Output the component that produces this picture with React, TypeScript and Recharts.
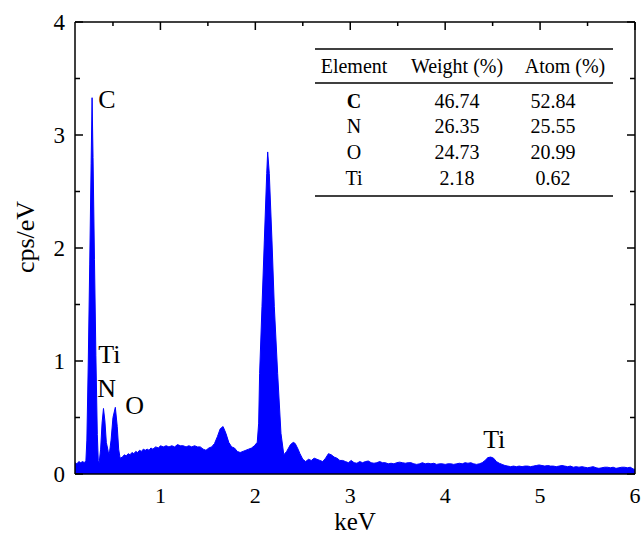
import { AreaChart, Area, XAxis, YAxis, ReferenceDot } from 'recharts'

const SERIF = '"Liberation Serif", "Times New Roman", serif'
const BLUE = '#0000ff'

// EDS spectrum
const keV = [
  0.10, 0.12, 0.14, 0.16, 0.18, 0.20, 0.215,
  0.225, 0.24, 0.255, 0.27, 0.28, 0.29, 0.305, 0.32, 0.335, 0.345, 0.355,
  0.37, 0.385, 0.40, 0.415, 0.43, 0.45, 0.462,
  0.48, 0.50, 0.525, 0.545, 0.56, 0.575,
  0.60, 0.62, 0.64, 0.66, 0.68, 0.70, 0.72, 0.74, 0.76, 0.78, 0.80, 0.82, 0.84, 0.86, 0.88, 0.90, 0.92, 0.95, 0.98,
  1.00, 1.03, 1.06, 1.09, 1.12, 1.15, 1.18, 1.21, 1.24, 1.27, 1.30, 1.33, 1.36, 1.39, 1.42, 1.45, 1.48,
  1.51, 1.54, 1.57, 1.60, 1.63, 1.66, 1.69, 1.72, 1.75, 1.78, 1.81, 1.84, 1.87, 1.90, 1.93, 1.96, 1.99, 2.02,
  2.035, 2.045, 2.07, 2.095, 2.12, 2.13, 2.147, 2.175, 2.20, 2.235, 2.27, 2.30,
  2.33, 2.37, 2.40, 2.42, 2.45, 2.47, 2.50, 2.53, 2.56, 2.59, 2.62, 2.65, 2.68, 2.71, 2.74, 2.77, 2.80,
  2.83, 2.86, 2.89, 2.92, 2.95, 2.98, 3.01, 3.04, 3.07, 3.10, 3.13, 3.16, 3.19, 3.22, 3.25, 3.28, 3.31,
  3.34, 3.37, 3.40, 3.43, 3.46, 3.49, 3.52, 3.55, 3.58, 3.61, 3.64, 3.67, 3.70, 3.73, 3.76, 3.79, 3.82,
  3.85, 3.88, 3.91, 3.94, 3.97, 4.00, 4.03, 4.06, 4.09, 4.12, 4.15, 4.18, 4.21, 4.24, 4.27, 4.30, 4.33,
  4.36, 4.39, 4.42, 4.45, 4.48, 4.51, 4.54, 4.57, 4.60, 4.63, 4.66, 4.69, 4.72, 4.75, 4.78, 4.81, 4.84,
  4.87, 4.90, 4.93, 4.96, 4.99, 5.02, 5.05, 5.08, 5.11, 5.14, 5.17, 5.20, 5.23, 5.26, 5.29, 5.32, 5.35,
  5.38, 5.41, 5.44, 5.47, 5.50, 5.53, 5.56, 5.59, 5.62, 5.65, 5.68, 5.71, 5.74, 5.77, 5.80, 5.83, 5.86,
  5.89, 5.92, 5.95, 5.98, 6.00,
]
const cps = [
  0.10, 0.09, 0.11, 0.10, 0.11, 0.10, 0.12,
  0.30, 1.00, 1.85, 2.75, 3.33, 2.80, 1.90, 1.05, 0.35, 0.12, 0.10,
  0.22, 0.45, 0.58, 0.47, 0.28, 0.20, 0.18,
  0.30, 0.50, 0.59, 0.42, 0.22, 0.14,
  0.15, 0.17, 0.16, 0.18, 0.17, 0.19, 0.18, 0.20, 0.19, 0.21, 0.20, 0.22, 0.21, 0.22, 0.21, 0.23, 0.22, 0.24, 0.23,
  0.25, 0.24, 0.25, 0.24, 0.25, 0.24, 0.26, 0.25, 0.25, 0.24, 0.25, 0.24, 0.25, 0.24, 0.24, 0.22, 0.21,
  0.23, 0.24, 0.27, 0.33, 0.40, 0.42, 0.36, 0.28, 0.24, 0.23, 0.20, 0.19, 0.20, 0.21, 0.22, 0.23, 0.25, 0.28,
  0.45, 0.89, 1.48, 2.07, 2.66, 2.85, 2.66, 2.07, 1.48, 0.89, 0.36, 0.17,
  0.20, 0.26, 0.28, 0.27, 0.22, 0.18, 0.13, 0.11, 0.13, 0.12, 0.14, 0.13, 0.12, 0.11, 0.14, 0.18, 0.17,
  0.15, 0.14, 0.12, 0.12, 0.11, 0.10, 0.12, 0.10, 0.095, 0.11, 0.10, 0.11, 0.115, 0.10, 0.095, 0.10, 0.11,
  0.10, 0.10, 0.09, 0.095, 0.09, 0.10, 0.105, 0.10, 0.095, 0.10, 0.10, 0.09, 0.085, 0.09, 0.10, 0.09, 0.095,
  0.09, 0.095, 0.085, 0.09, 0.09, 0.085, 0.09, 0.09, 0.085, 0.09, 0.095, 0.09, 0.10, 0.095, 0.10, 0.09, 0.085,
  0.09, 0.10, 0.12, 0.145, 0.15, 0.14, 0.11, 0.095, 0.085, 0.075, 0.07, 0.065, 0.07, 0.065, 0.07, 0.065, 0.07,
  0.07, 0.065, 0.07, 0.075, 0.08, 0.075, 0.07, 0.075, 0.07, 0.07, 0.065, 0.07, 0.075, 0.07, 0.065, 0.07, 0.06,
  0.065, 0.06, 0.065, 0.06, 0.055, 0.06, 0.065, 0.055, 0.05, 0.055, 0.06, 0.06, 0.055, 0.06, 0.05, 0.055, 0.06,
  0.06, 0.055, 0.06, 0.045, 0.04,
]
const spectrum = keV.map((e, i) => ({ keV: e, cps: cps[i] }))

const xTicks = [0.5, 1, 1.5, 2, 2.5, 3, 3.5, 4, 4.5, 5, 5.5, 6]
const yTicks = [0, 0.5, 1, 1.5, 2, 2.5, 3, 3.5, 4]

// peak labels, anchored (left / baseline) in data units
const peakNames = ['C', 'Ti', 'N', 'O', 'Ti']
const peakKeV = [0.345, 0.345, 0.335, 0.63, 4.4]
const peakCps = [3.24, 0.98, 0.68, 0.53, 0.23]

const tableHead = ['Element', 'Weight (%)', 'Atom (%)']
const elements = ['C', 'N', 'O', 'Ti']
const weightPct = ['46.74', '26.35', '24.73', '2.18']
const atomPct = ['52.84', '25.55', '20.99', '0.62']

const major = (v: number) => Number.isInteger(v)

function BottomTick({ x, y, payload }: any) {
  if (!major(payload.value)) return <g />
  return (
    <text x={x} y={y} dy="0.71em" textAnchor="middle" fontSize={22} fontFamily={SERIF} fill="#000">
      {payload.value}
    </text>
  )
}

function TopTick({ x, y, payload }: any) {
  const len = major(payload.value) ? 8 : 4
  return <line x1={x} y1={y} x2={x} y2={y + len} stroke="#000" strokeWidth={1.5} />
}

function LeftTick({ x, y, payload }: any) {
  const len = major(payload.value) ? 8 : 5
  return (
    <g>
      <line x1={x + 10} y1={y} x2={x + 10 + len} y2={y} stroke="#000" strokeWidth={1.5} />
      {major(payload.value) && (
        <text x={x} y={y} dy="0.35em" textAnchor="end" fontSize={23} fontFamily={SERIF} fill="#000">
          {payload.value}
        </text>
      )}
    </g>
  )
}

function RightTick({ x, y, payload }: any) {
  const len = major(payload.value) ? 8 : 5
  return <line x1={x} y1={y} x2={x - len} y2={y} stroke="#000" strokeWidth={1.5} />
}

function Table() {
  const colX = [354, 457, 553]
  const rowY = [108, 133, 159, 185]
  const txt = { fontFamily: SERIF, fontSize: 20, fill: '#000', textAnchor: 'middle' as const }
  return (
    <g>
      <line x1={315} x2={613} y1={49} y2={49} stroke="#000" strokeWidth={1.5} />
      <line x1={315} x2={613} y1={83} y2={83} stroke="#000" strokeWidth={1.5} />
      <line x1={315} x2={613} y1={196} y2={196} stroke="#000" strokeWidth={1.5} />
      <text {...txt} x={354} y={73}>{tableHead[0]}</text>
      <text {...txt} x={457} y={73}>{tableHead[1]}</text>
      <text {...txt} x={565} y={73}>{tableHead[2]}</text>
      {elements.map((el, i) => (
        <g key={el}>
          <text {...txt} x={colX[0]} y={rowY[i]} fontWeight={el === 'C' ? 'bold' : 'normal'}>{el}</text>
          <text {...txt} x={colX[1]} y={rowY[i]}>{weightPct[i]}</text>
          <text {...txt} x={colX[2]} y={rowY[i]}>{atomPct[i]}</text>
        </g>
      ))}
    </g>
  )
}

export default function App() {
  const axisLine = { stroke: '#000', strokeWidth: 1.5 }
  return (
    <div style={{ position: 'absolute', left: 0, top: 0, width: 642, height: 536, background: '#fff' }}>
      <AreaChart width={642} height={536} data={spectrum} margin={{ top: 2, right: 0, bottom: 0, left: 0 }}>
        <XAxis
          xAxisId="b" dataKey="keV" type="number" domain={[0.1, 6]} allowDataOverflow
          ticks={xTicks} interval={0} height={62} tickSize={0} tickMargin={13}
          tickLine={false} axisLine={axisLine} tick={(p: any) => <BottomTick {...p} />}
        />
        <XAxis
          xAxisId="t" orientation="top" dataKey="keV" type="number" domain={[0.1, 6]} allowDataOverflow
          ticks={xTicks} interval={0} height={20} tickSize={0} tickMargin={0}
          tickLine={false} axisLine={axisLine} tick={(p: any) => <TopTick {...p} />}
        />
        <YAxis
          yAxisId="l" type="number" domain={[0, 4]} allowDataOverflow
          ticks={yTicks} interval={0} width={75} tickSize={0} tickMargin={10}
          tickLine={false} axisLine={axisLine} tick={(p: any) => <LeftTick {...p} />}
        />
        <YAxis
          yAxisId="r" orientation="right" type="number" domain={[0, 4]} allowDataOverflow
          ticks={yTicks} interval={0} width={7} tickSize={0} tickMargin={0}
          tickLine={false} axisLine={axisLine} tick={(p: any) => <RightTick {...p} />}
        />
        <Area
          xAxisId="b" yAxisId="l" type="linear" dataKey="cps"
          stroke={BLUE} strokeWidth={1} fill={BLUE} fillOpacity={1} isAnimationActive={false}
        />
        {peakNames.map((name, i) => (
          <ReferenceDot
            key={i} xAxisId="b" yAxisId="l" x={peakKeV[i]} y={peakCps[i]} r={0}
            fill="none" stroke="none"
            label={(props: any) => (
              <text x={props.viewBox?.x} y={props.viewBox?.y} fontSize={26} fontFamily={SERIF} fill="#000">
                {name}
              </text>
            )}
          />
        ))}
      </AreaChart>
      <svg width={642} height={536} style={{ position: 'absolute', left: 0, top: 0, pointerEvents: 'none' }}>
        <Table />
        <text x={355} y={530} textAnchor="middle" fontSize={25} fontFamily={SERIF} fill="#000">keV</text>
        <text
          x={0} y={0} transform="translate(34 237) rotate(-90)" textAnchor="middle"
          fontSize={26} fontFamily={SERIF} fill="#000"
        >
          cps/eV
        </text>
      </svg>
    </div>
  )
}
